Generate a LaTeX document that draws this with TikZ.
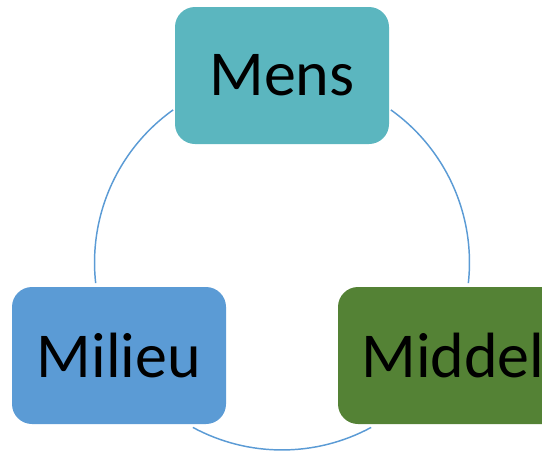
\documentclass[tikz,border=0pt]{standalone}
\usepackage{fontspec}
\setmainfont{Carlito}
\usepackage{tikz}
\usetikzlibrary{calc}
\definecolor{mensteal}{RGB}{91,182,191}
\definecolor{milieublue}{RGB}{91,155,213}
\definecolor{middelgreen}{RGB}{84,130,53}
\tikzset{
  cyclebox/.style={rounded corners=15pt,minimum width=160.5pt,minimum height=102.75pt,
    inner sep=0pt,font=\fontsize{48}{58}\selectfont,text=black},
  cyclearc/.style={milieublue,line width=1.1pt}
}

\begin{document}
\begin{tikzpicture}[x=0.75pt,y=-0.75pt]
\useasboundingbox (0,0) rectangle (542,450);
\clip (0,0) rectangle (542,450);
\coordinate (centre) at (282,262.5);
\draw [cyclearc] ($(centre)+(125.5:140.6pt)$) arc [start angle=125.5, end angle=186.3, radius=140.6pt];
\draw [cyclearc] ($(centre)+(54.5:140.6pt)$) arc [start angle=54.5, end angle=-6.3, radius=140.6pt];
\draw [cyclearc] ($(centre)+(241.6:140.6pt)$) arc [start angle=241.6, end angle=298.4, radius=140.6pt];
\node [cyclebox,fill=mensteal] (mens) at (282,75.5) {Mens};
\node [cyclebox,fill=milieublue] (milieu) at (119,355.5) {Milieu};
\node [cyclebox,fill=middelgreen,minimum width=172.5pt] (middel) at (453,355.5) {Middel};
\end{tikzpicture}
\end{document}
